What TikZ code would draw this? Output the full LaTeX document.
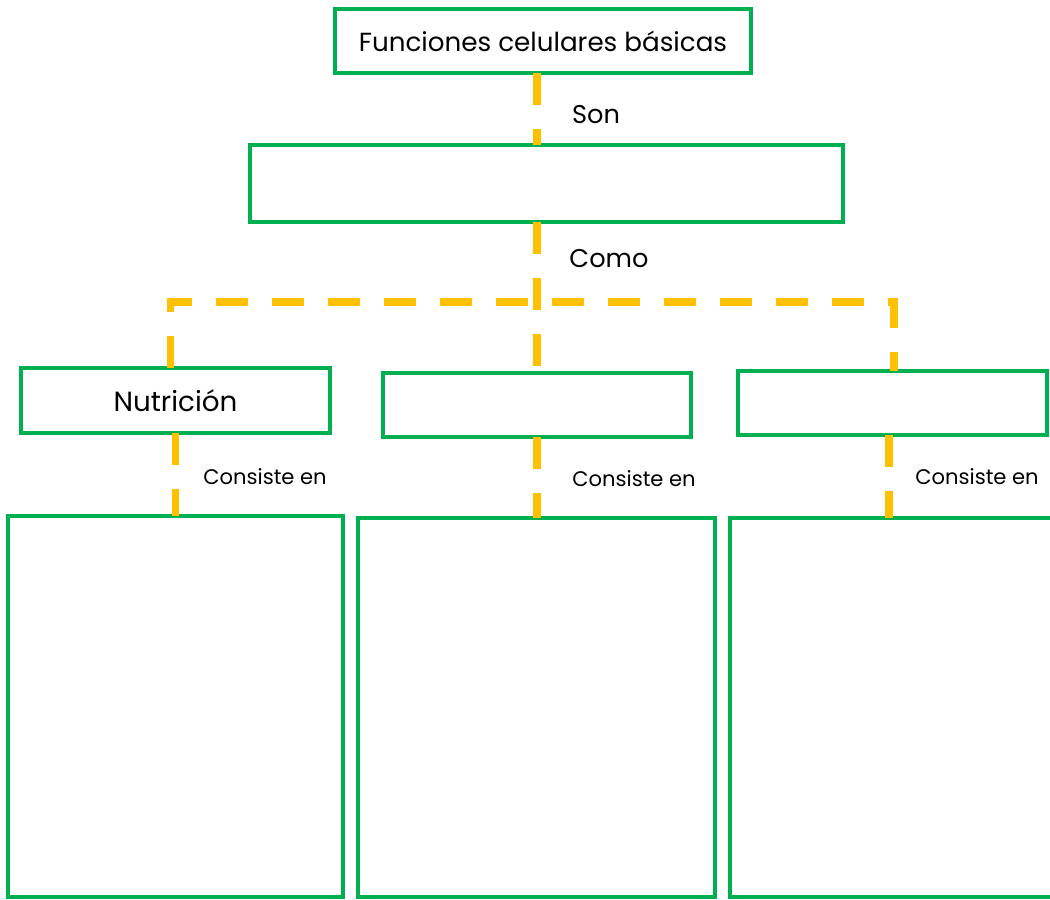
\documentclass[tikz,border=0pt]{standalone}
\usepackage{fontspec}
\setmainfont{Poppins}
\usepackage{tikz}
\usetikzlibrary{positioning,calc}
\definecolor{leafgreen}{RGB}{0,176,80}
\definecolor{amber}{RGB}{255,192,0}
\tikzset{
  box/.style={draw=leafgreen,line width=1.8pt,fill=white,inner sep=0pt,outer sep=0pt,align=center,font=\fontsize{14.9}{17}\selectfont},
  link/.style={draw=amber,line width=4.5pt,dash pattern=on 0.64cm off 0.48cm},
  lbl/.style={font=\fontsize{14.6}{17}\selectfont},
  sublbl/.style={font=\fontsize{12}{14}\selectfont}
}

\begin{document}
\begin{tikzpicture}[x=0.02cm,y=-0.02cm]
\useasboundingbox (0,0) rectangle (1050,899);
\clip (0,0) rectangle (1050,899);
% boxes
\node[box,minimum width=8.32cm,minimum height=1.28cm] (top) at (543,41) {Funciones celulares básicas};
\node[box,minimum width=11.86cm,minimum height=1.54cm] (sub) at (546.5,183.5) {};
\node[box,minimum width=6.18cm,minimum height=1.3cm,font=\fontsize{15.8}{18}\selectfont] (nutri) at (175.5,400.5) {Nutrición};
\node[box,minimum width=6.16cm,minimum height=1.28cm] (mid) at (537,405) {};
\node[box,minimum width=6.18cm,minimum height=1.28cm] (right) at (892.5,403) {};
\node[box,minimum width=6.7cm,minimum height=7.62cm] (nutriD) at (175.5,706.5) {};
\node[box,minimum width=7.14cm,minimum height=7.58cm] (midD) at (536.5,707.5) {};
\node[box,minimum width=6.64cm,minimum height=7.58cm] (rightD) at (896,707.5) {};
\coordinate (rail) at (537,302);
% labels
\node[lbl] (son) at (596,115) {Son};
\node[lbl] (como) at (609,259) {Como};
\node[sublbl] (cons1) at (265,477) {Consiste en};
\node[sublbl] (cons2) at (634,479) {Consiste en};
\node[sublbl] (cons3) at (977,477) {Consiste en};
% connectors
\draw[link] (top.south -| mid.north) -- (sub.north -| mid.north);
\draw[link] (sub.south -| mid.north) -- (mid.north);
\draw[link] ([xshift=-0.1cm]nutri.north) |- (rail) -| ([xshift=0.03cm]right.north);
\draw[link] (nutri.south) -- (nutri.south |- nutriD.north);
\draw[link] (mid.south) -- (mid.south |- midD.north);
\draw[link] (right.south -| 889,0) -- (rightD.north -| 889,0);
\end{tikzpicture}
\end{document}
